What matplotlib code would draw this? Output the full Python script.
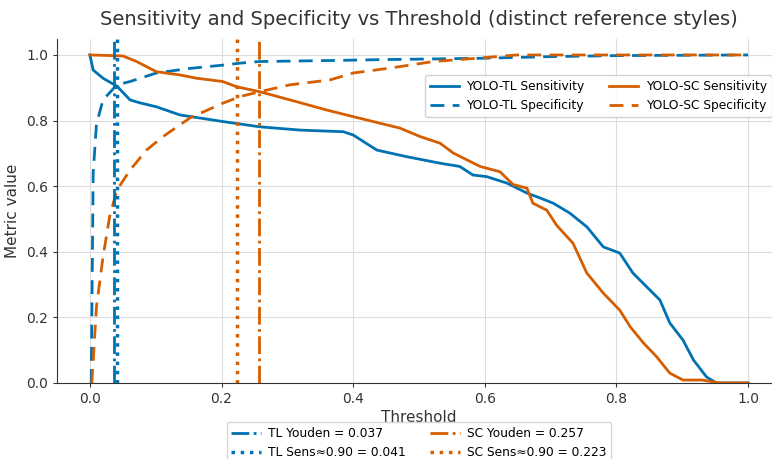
import numpy as np
import matplotlib.pyplot as plt

# curves
tl_sens_t = [0, 0.005, 0.02, 0.041, 0.061, 0.076, 0.101, 0.137, 0.202, 0.258, 0.319, 0.385, 0.40, 0.436,
             0.481, 0.532, 0.562, 0.582, 0.603, 0.634, 0.664, 0.684, 0.704, 0.729, 0.755, 0.78, 0.805,
             0.825, 0.846, 0.866, 0.881, 0.901, 0.917, 0.937, 0.952, 1.0]
tl_sens = [1.0, 0.954, 0.929, 0.905, 0.863, 0.854, 0.842, 0.817, 0.797, 0.781, 0.771, 0.766, 0.756, 0.71,
           0.69, 0.67, 0.66, 0.634, 0.629, 0.609, 0.579, 0.564, 0.548, 0.518, 0.476, 0.415, 0.396,
           0.335, 0.293, 0.253, 0.183, 0.131, 0.070, 0.018, 0.0, 0.0]

sc_sens_t = [0, 0.05, 0.071, 0.101, 0.137, 0.162, 0.202, 0.223, 0.258, 0.304, 0.36, 0.40, 0.471, 0.502,
             0.532, 0.552, 0.593, 0.623, 0.643, 0.664, 0.673, 0.694, 0.709, 0.734, 0.755, 0.78, 0.805,
             0.821, 0.841, 0.861, 0.881, 0.901, 0.93, 0.957, 1.0]
sc_sens = [1.0, 0.997, 0.98, 0.949, 0.939, 0.929, 0.919, 0.903, 0.888, 0.863, 0.832, 0.812, 0.777, 0.751,
           0.731, 0.701, 0.66, 0.644, 0.605, 0.594, 0.548, 0.527, 0.481, 0.426, 0.335, 0.274, 0.222,
           0.171, 0.122, 0.080, 0.030, 0.009, 0.009, 0.0, 0.0]

tl_spec_t = [0.002, 0.005, 0.010, 0.02, 0.041, 0.061, 0.101, 0.152, 0.202, 0.228, 0.258, 0.365, 0.45,
             0.6, 0.7, 0.8, 1.0]
tl_spec = [0.0, 0.64, 0.79, 0.863, 0.909, 0.919, 0.945, 0.959, 0.969, 0.975, 0.98, 0.983, 0.986,
           0.99, 0.995, 0.998, 1.0]

sc_spec_t = [0.003, 0.01, 0.02, 0.030, 0.041, 0.061, 0.086, 0.111, 0.152, 0.202, 0.228, 0.258, 0.304,
             0.365, 0.40, 0.456, 0.522, 0.588, 0.649, 1.0]
sc_spec = [0.0, 0.233, 0.385, 0.507, 0.588, 0.649, 0.71, 0.751, 0.808, 0.853, 0.873, 0.888, 0.909,
           0.924, 0.945, 0.96, 0.98, 0.99, 1.0, 1.0]

tl_youden = 0.037
tl_sens90 = 0.041
sc_youden = 0.257
sc_sens90 = 0.223

blue = '#0072B2'
orange = '#D55E00'
txt = '#333333'

plt.rcParams['font.family'] = 'DejaVu Sans'
fig = plt.figure(figsize=(7.72, 4.59), dpi=100)
ax = fig.add_axes([0.0738, 0.1656, 0.9379, 0.7504])

ax.grid(True, color='#dddddd', linewidth=0.8)
ax.set_axisbelow(True)
for s in ['top', 'right']:
    ax.spines[s].set_visible(False)
for s in ['left', 'bottom']:
    ax.spines[s].set_color('#333333')

l1, = ax.plot(tl_sens_t, tl_sens, color=blue, lw=2, label='YOLO-TL Sensitivity')
l2, = ax.plot(tl_spec_t, tl_spec, color=blue, lw=2, ls=(0, (5, 3)), label='YOLO-TL Specificity')
l3, = ax.plot(sc_sens_t, sc_sens, color=orange, lw=2, label='YOLO-SC Sensitivity')
l4, = ax.plot(sc_spec_t, sc_spec, color=orange, lw=2, ls=(0, (5, 3)), label='YOLO-SC Specificity')

v1 = ax.axvline(tl_youden, color=blue, lw=2, ls='-.', label=f'TL Youden = {tl_youden:.3f}')
v2 = ax.axvline(tl_sens90, color=blue, lw=2.5, ls=':', label=f'TL Sens≈0.90 = {tl_sens90:.3f}')
v3 = ax.axvline(sc_youden, color=orange, lw=2, ls='-.', label=f'SC Youden = {sc_youden:.3f}')
v4 = ax.axvline(sc_sens90, color=orange, lw=2.5, ls=':', label=f'SC Sens≈0.90 = {sc_sens90:.3f}')

ax.set_xlim(-0.05, 1.05)
ax.set_ylim(0, 1.05)
ax.set_xticks(np.arange(0, 1.01, 0.2))
ax.set_yticks(np.arange(0, 1.01, 0.2))
ax.tick_params(labelsize=10, colors=txt, length=3)
ax.set_xlabel('Threshold', fontsize=11, color=txt, labelpad=3)
ax.set_ylabel('Metric value', fontsize=11, color=txt)
ax.set_title('Sensitivity and Specificity vs Threshold (distinct reference styles)',
             fontsize=14, color=txt, pad=10)

leg1 = ax.legend(handles=[l1, l2, l3, l4], ncol=2, fontsize=8.8, loc='upper left',
                 bbox_to_anchor=(0.508, 0.894), borderaxespad=0, framealpha=0.9,
                 handlelength=2.4, handletextpad=0.6, columnspacing=2.0)
ax.add_artist(leg1)
ax.legend(handles=[v1, v2, v3, v4], ncol=2, fontsize=8.8, loc='upper center',
          bbox_to_anchor=(0.5, -0.113), borderaxespad=0, handlelength=2.4,
          handletextpad=0.6, columnspacing=2.0)

fig.savefig('out.png', dpi=100)
